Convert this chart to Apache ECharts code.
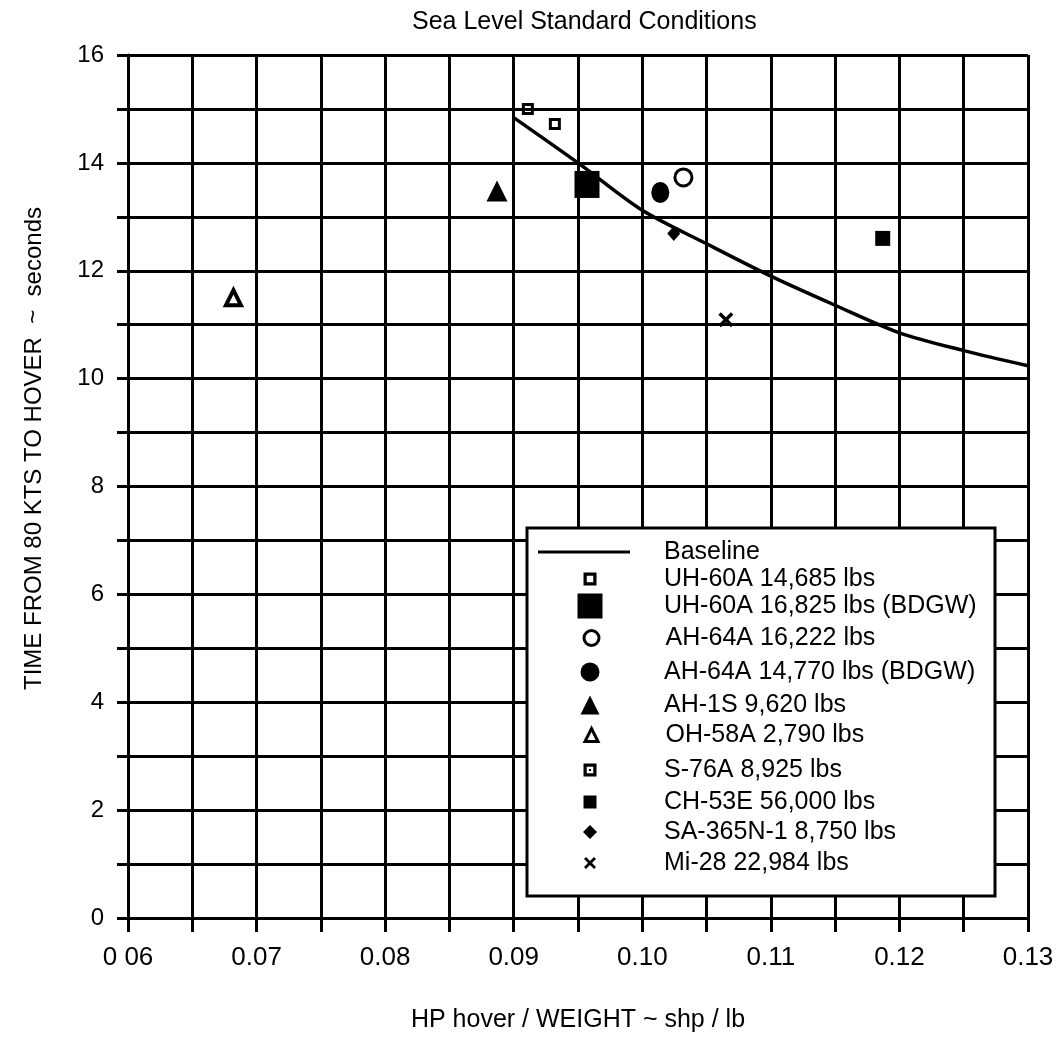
<!DOCTYPE html>
<html><head><meta charset="utf-8">
<script src="https://cdn.jsdelivr.net/npm/echarts@6/dist/echarts.min.js"></script>
<style>html,body{margin:0;padding:0;background:#fff}#c{width:1058px;height:1038px}</style>
</head><body><div id="c"></div>
<script>
// ---- data ----
const xTickValues = [0.06, 0.07, 0.08, 0.09, 0.10, 0.11, 0.12, 0.13];
const xTickLabels = ['0 06', '0.07', '0.08', '0.09', '0.10', '0.11', '0.12', '0.13'];
const yTickValues = [0, 2, 4, 6, 8, 10, 12, 14, 16];
const yTickLabels = ['0', '2', '4', '6', '8', '10', '12', '14', '16'];

const baselineX = [0.09, 0.095, 0.10, 0.105, 0.11, 0.115, 0.12, 0.125, 0.13];
const baselineY = [14.84, 14.0, 13.12, 12.5, 11.9, 11.36, 10.85, 10.52, 10.24];

const pointNames = ['UH-60A 14,685 lbs', 'UH-60A 16,825 lbs (BDGW)', 'AH-64A 16,222 lbs',
  'AH-64A 14,770 lbs (BDGW)', 'AH-1S 9,620 lbs', 'OH-58A 2,790 lbs', 'S-76A 8,925 lbs',
  'CH-53E 56,000 lbs', 'SA-365N-1 8,750 lbs', 'Mi-28 22,984 lbs'];
const pointX = [0.0932, 0.0957, 0.1032, 0.1014, 0.0887, 0.0682, 0.0911, 0.1187, 0.10245, 0.1065];
const pointY = [14.72, 13.6, 13.73, 13.45, 13.48, 11.5, 15.0, 12.6, 12.69, 11.09];

// ---- styles ----
const FONT = '"Liberation Sans", Arial, Helvetica, sans-serif';
const OPEN_SQ = 'path://M0,0H12V12H0Z M3,3V9H9V3Z';
const S76 = 'path://M0,0H12V12H0Z M3,3V9H9V3Z M5,5H7V7H5Z';
const XMARK = 'path://M0,2L2,0L6,4L10,0L12,2L8,6L12,10L10,12L6,8L2,12L0,10L4,6Z';
const styles = [
  {symbol: OPEN_SQ, size: 12, color: '#000', bw: 0, lsize: 13},
  {symbol: 'rect', size: [25, 27], color: '#000', bw: 0, lsize: 25},
  {symbol: 'circle', size: 17, color: '#fff', bw: 3, lsize: 15},
  {symbol: 'circle', size: [18, 21], color: '#000', bw: 0, lsize: 19},
  {symbol: 'triangle', size: [21, 21], color: '#000', bw: 0, lsize: 19},
  {symbol: 'triangle', size: [15, 15], color: '#fff', bw: 4, lsize: 13},
  {symbol: S76, size: 12, color: '#000', bw: 0, lsize: 13},
  {symbol: 'rect', size: 15, color: '#000', bw: 0, lsize: 13},
  {symbol: 'diamond', size: [13, 15], color: '#000', bw: 0, lsize: 14},
  {symbol: XMARK, size: 15, color: '#000', bw: 0, lsize: 12}
];
const legendRowY = [579, 606, 638, 672, 705, 735, 770, 802, 832, 863];
const legendIconCX = 590, legendTextX = 664;

function near(a, b) { return Math.abs(a - b) < 1e-7; }

const series = [{
  name: 'Baseline', type: 'line', symbol: 'none', smooth: 0.3,
  data: baselineX.map((x, i) => [x, baselineY[i]]),
  lineStyle: {color: '#000', width: 3.5}, itemStyle: {color: '#000'}, z: 3
}];
pointNames.forEach((n, i) => {
  const s = styles[i];
  series.push({
    name: n, type: 'scatter', symbol: s.symbol, symbolSize: s.size,
    data: [[pointX[i], pointY[i]]],
    itemStyle: {color: s.color, borderColor: '#000', borderWidth: s.bw, opacity: 1},
    z: 4
  });
});

const textStyle = {fontFamily: FONT, fontSize: 25, color: '#000', lineHeight: 26};
const legends = [{
  data: [{name: 'Baseline', icon: 'rect'}], left: 538, top: 552 - 13, itemWidth: 92, itemHeight: 3, padding: 0,
  selectedMode: false, textStyle: Object.assign({}, textStyle, {padding: [0, 0, 0, 29]}),
  itemStyle: {color: '#000', borderWidth: 0}, z: 10
}];
pointNames.forEach((n, i) => {
  const s = styles[i];
  const w = s.lsize;
  const pad = legendTextX - (legendIconCX + w / 2 + 5);
  legends.push({
    data: [n], left: legendIconCX - w / 2, top: legendRowY[i] - 13,
    itemWidth: w, itemHeight: w, padding: 0, selectedMode: false,
    textStyle: Object.assign({}, textStyle, {padding: [0, 0, 0, pad]}),
    itemStyle: {borderWidth: s.bw ? 3 : 0, borderColor: '#000'}, z: 10
  });
});

const axisLineStyle = {color: '#000', width: 3};
const option = {
  backgroundColor: '#fff',
  animation: false,
  title: {
    text: 'Sea Level Standard Conditions', left: 412, top: 10, padding: 0,
    textStyle: {fontFamily: FONT, fontSize: 25, fontWeight: 'normal', color: '#000'}
  },
  grid: {left: 128, right: 30, top: 55, bottom: 120, containLabel: false},
  xAxis: {
    type: 'value', min: 0.06, max: 0.13, interval: 0.005,
    name: 'HP hover / WEIGHT ~ shp / lb', nameLocation: 'middle', nameGap: 90,
    nameTextStyle: {fontFamily: FONT, fontSize: 25, color: '#000'},
    axisLine: {show: true, onZero: false, lineStyle: axisLineStyle},
    axisTick: {show: true, inside: false, length: 14, lineStyle: axisLineStyle},
    splitLine: {show: true, lineStyle: axisLineStyle},
    axisLabel: {
      margin: 27, fontFamily: FONT, fontSize: 26, color: '#000', hideOverlap: false,
      formatter: v => { const k = xTickValues.findIndex(t => near(t, v)); return k >= 0 ? xTickLabels[k] : ''; }
    }
  },
  yAxis: {
    type: 'value', min: 0, max: 16, interval: 1,
    name: 'TIME FROM 80 KTS TO HOVER  ~  seconds', nameLocation: 'middle', nameGap: 82, nameRotate: 90,
    nameTextStyle: {fontFamily: FONT, fontSize: 24, color: '#000', padding: [0, 0, 0, 76]},
    axisLine: {show: true, onZero: false, lineStyle: axisLineStyle},
    axisTick: {show: true, inside: false, length: 11, lineStyle: axisLineStyle},
    splitLine: {show: true, lineStyle: axisLineStyle},
    axisLabel: {
      margin: 24, fontFamily: FONT, fontSize: 24, color: '#000',
      formatter: v => { const k = yTickValues.findIndex(t => near(t, v)); return k >= 0 ? yTickLabels[k] : ''; }
    }
  },
  legend: legends,
  graphic: [{
    type: 'rect', z: 8, shape: {x: 527, y: 528, width: 468, height: 368},
    style: {fill: '#fff', stroke: '#000', lineWidth: 3}
  }],
  series: series
};
const chart = echarts.init(document.getElementById('c'), null, {renderer: 'canvas'});
chart.setOption(option);
</script>
</body></html>
